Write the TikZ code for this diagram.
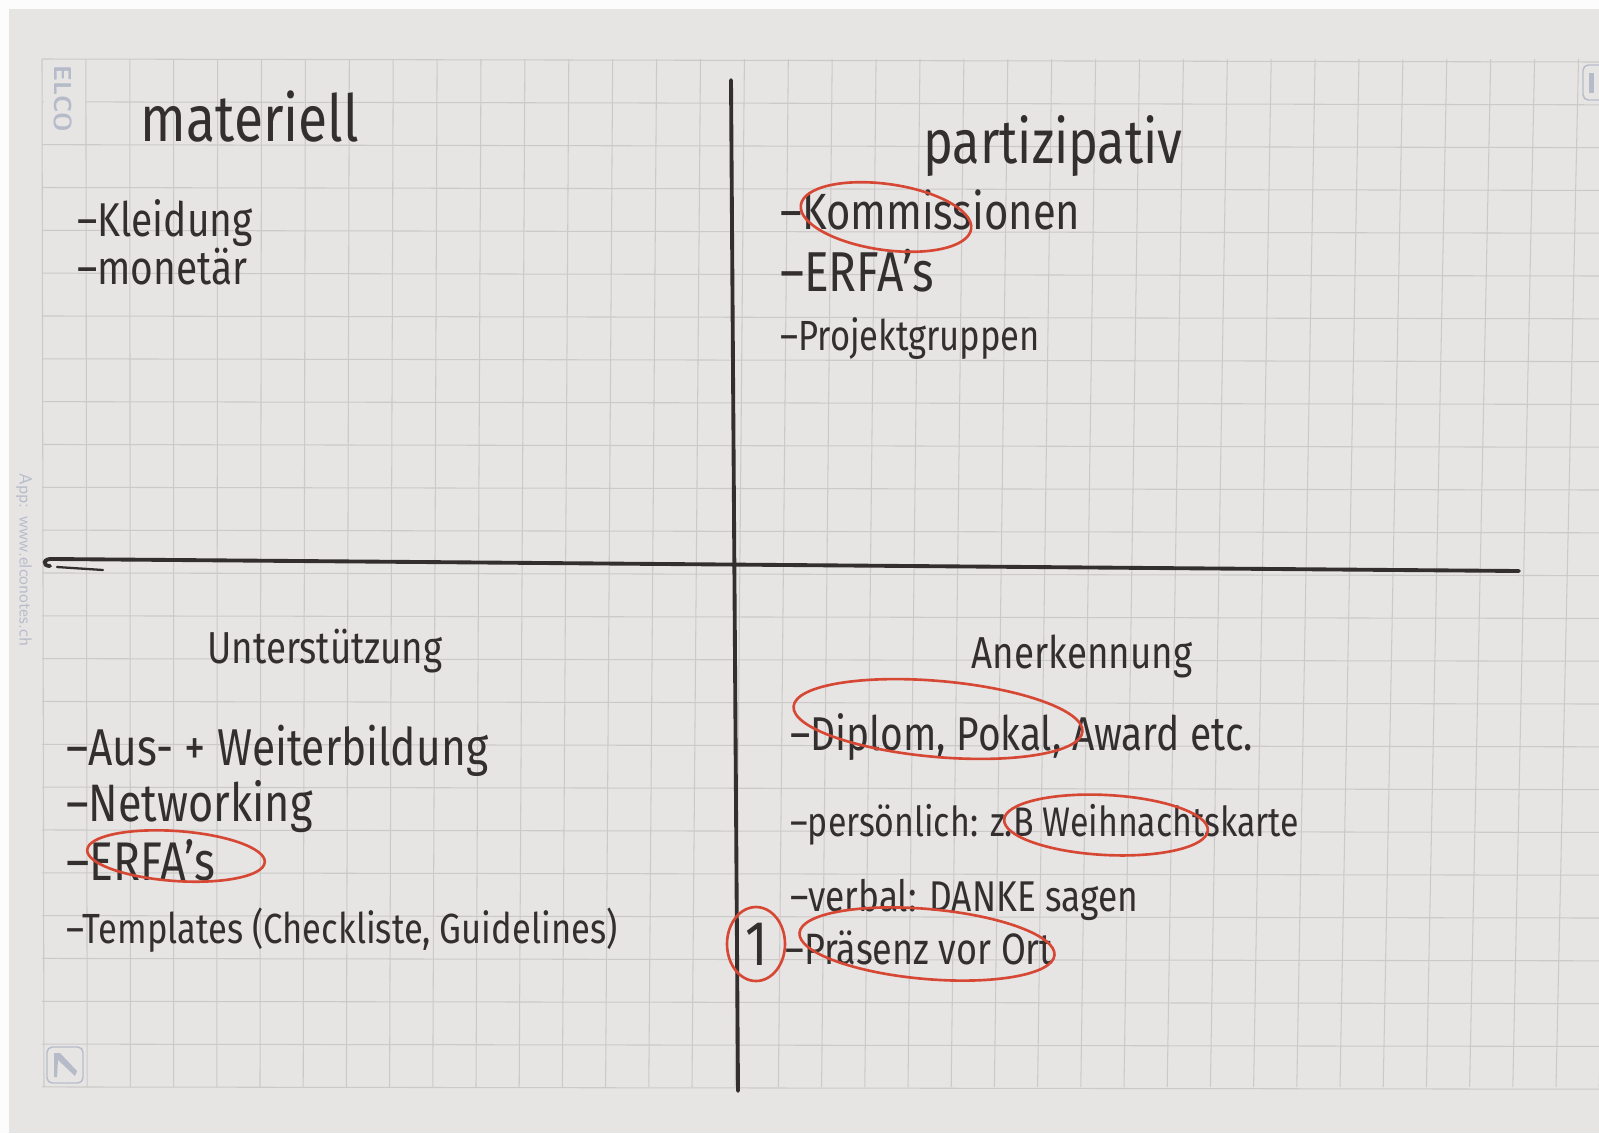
\documentclass[tikz,border=0pt]{standalone}
\usepackage{fontspec}
\setmainfont{Fira Sans}[FakeStretch=0.82]
\usepackage{tikz}
\usetikzlibrary{shapes.geometric}
\definecolor{paper}{RGB}{231,228,228}
\definecolor{gridline}{RGB}{204,201,201}
\definecolor{pen}{RGB}{52,47,47}
\definecolor{marker}{RGB}{214,72,52}
\definecolor{print}{RGB}{182,187,202}

\begin{document}
\begin{tikzpicture}[x=0.02cm, y=-0.02cm]
  \tikzset{
    hand_text/.style={text=pen, inner sep=0pt, anchor=base west},
    title_text/.style={hand_text, anchor=base, font=\fontsize{35}{40}\selectfont},
    item_text/.style={hand_text, font=\fontsize{29}{34}\selectfont},
    pen_line/.style={draw=pen, line width=2.2pt, line cap=round},
    red_ring/.style={draw=marker, line width=1.5pt, ellipse, inner sep=0pt},
    grid_line/.style={draw=gridline, line width=0.6pt},
    print_mark/.style={text=print, inner sep=0pt, font=\sffamily\bfseries}
  }
  \useasboundingbox (0,0) rectangle (1599,1133);
  \clip (0,0) rectangle (1599,1133);
  \fill[white!90!paper] (0,0) rectangle (1599,1133);
  \fill[paper] (9,9) rectangle (1599,1133);

  % squared paper
  \foreach \i in {0,...,36}
    \draw[grid_line] ({42+43.9*\i},59) -- ({44+43.2*\i},1087);
  \foreach \j in {0,...,24}
    \draw[grid_line] (42,{59+42.83*\j}) -- (1599,{62+42.8*\j});
  \fill[paper] (43.5,60.5) rectangle (84.5,139);

  % printed marks of the pad
  \node[print_mark, rotate=-90, font=\sffamily\bfseries\fontsize{14}{14}\selectfont] (E) at (63,99) {ELCO};
  \node[print_mark, rotate=-90, font=\sffamily\fontsize{10}{10}\selectfont] (W) at (24,560) {App: www.elconotes.ch};
  \draw[print, line width=0.8pt, rounded corners=3pt] (47,1047) rectangle (83,1083);
  \fill[print] (54,1053) -- (60,1053) -- (77,1071) -- (75,1076) -- (58,1060) -- (57,1077) -- (54,1077) -- cycle;
  \draw[print, line width=0.8pt, rounded corners=3pt] (1583,65) rectangle (1620,100);
  \fill[print] (1589,73) -- (1594,73) -- (1594,93) -- (1589,93) -- cycle;

  % axes
  \coordinate (T) at (731,80);
  \coordinate (D) at (738,1091);
  \coordinate (L) at (53,559);
  \coordinate (R) at (1519,571);
  \draw[pen_line] (T) -- (D);
  \draw[pen_line] (L) -- (R);
  \draw[pen_line] (L) .. controls (43,558) and (42,566) .. (50,566);
  \draw[pen_line, line width=1.3pt] (57,567) -- (103,570);

  % materiell
  \node[title_text, font=\fontsize{37}{40}\selectfont] (M) at (250,141) {materiell};
  \node[item_text, font=\fontsize{27}{30}\selectfont] (M1) at (77,236) {–Kleidung};
  \node[item_text, font=\fontsize{27}{30}\selectfont] (M2) at (77,284) {–monetär};

  % partizipativ
  \node[title_text] (P) at (1053,163) {partizipativ};
  \node[item_text] (P1) at (780,229) {–Kommissionen};
  \node[item_text, font=\fontsize{32}{36}\selectfont] (P2) at (780,291) {–ERFA's};
  \node[item_text, font=\fontsize{24}{28}\selectfont] (P3) at (780,350) {–Projektgruppen};

  % Unterstützung
  \node[title_text, font=\fontsize{25.5}{30}\selectfont] (U) at (325,663) {Unterstützung};
  \node[item_text, font=\fontsize{29.5}{34}\selectfont] (U1) at (66,765) {–Aus- + Weiterbildung};
  \node[item_text, font=\fontsize{30}{34}\selectfont] (U2) at (66,821) {–Networking};
  \node[item_text, font=\fontsize{31}{36}\selectfont] (U3) at (66,880) {–ERFA's};
  \node[item_text, font=\fontsize{24}{28}\selectfont] (U4) at (66,943) {–Templates (Checkliste, Guidelines)};

  % Anerkennung
  \node[title_text, font=\fontsize{25.5}{30}\selectfont] (A) at (1082,668) {Anerkennung};
  \node[item_text, font=\fontsize{27}{32}\selectfont] (A1) at (790,750) {–Diplom, Pokal, Award etc.};
  \node[item_text, font=\fontsize{23.5}{26}\selectfont] (A2) at (790,836) {–persönlich: z.B Weihnachtskarte};
  \node[item_text, font=\fontsize{24.5}{28}\selectfont] (A3) at (790,911) {–verbal: DANKE sagen};
  \node[item_text, font=\fontsize{25}{28}\selectfont] (A4) at (785,964) {–Präsenz vor Ort};
  \node[hand_text, anchor=center, font=\fontsize{36}{40}\selectfont] (N) at (757,944) {1};

  % red marks
  \node[red_ring, minimum width=3.44cm, minimum height=1.32cm, rotate=-8] (K1) at (886,217) {};
  \node[red_ring, minimum width=3.56cm, minimum height=1.0cm, rotate=-4] (K2) at (176,856) {};
  \node[red_ring, minimum width=5.8cm, minimum height=1.52cm, rotate=-5] (K3) at (938,719) {};
  \node[red_ring, minimum width=4.08cm, minimum height=1.2cm, rotate=-3] (K4) at (1106,825) {};
  \node[red_ring, minimum width=5.12cm, minimum height=1.4cm, rotate=-5] (K5) at (927,944) {};
  \node[red_ring, minimum width=1.16cm, minimum height=1.48cm] (K6) at (756,944) {};
\end{tikzpicture}
\end{document}
